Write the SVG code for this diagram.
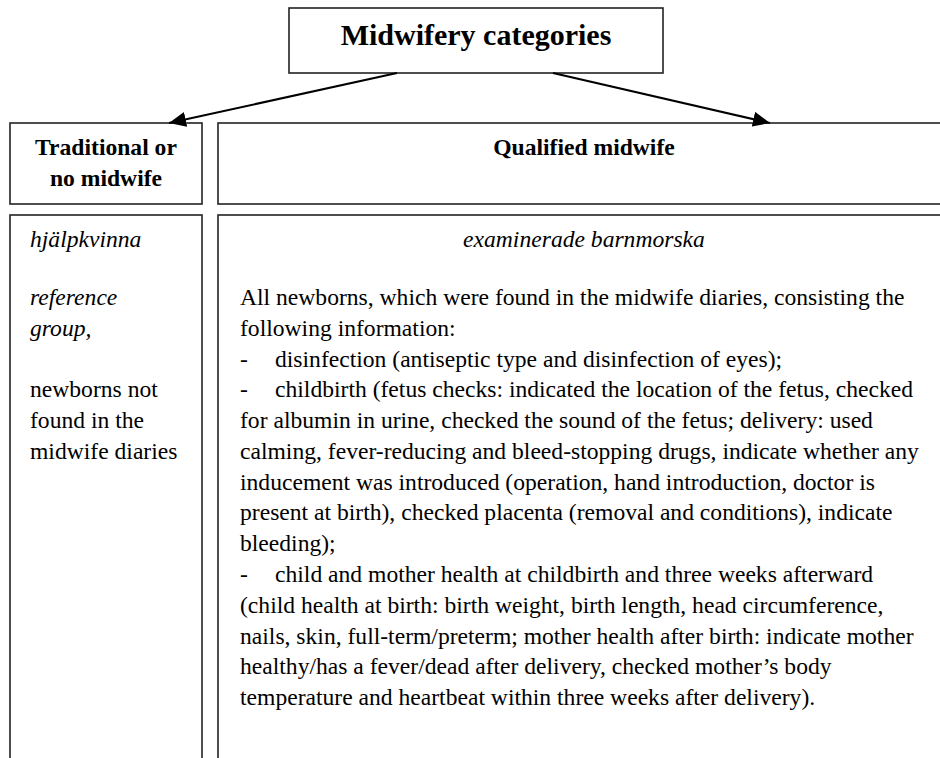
<svg xmlns="http://www.w3.org/2000/svg" width="940" height="758" viewBox="0 0 940 758">
<style>
.box{fill:#fff;stroke:#222;stroke-width:1.6}
.t{font-family:"Liberation Serif","Times New Roman",serif;font-size:23.6px;fill:#000}
.b{font-weight:bold}
.i{font-style:italic}
.c{text-anchor:middle}
.edge{stroke:#000;stroke-width:2;fill:none}
</style>
<defs>
<marker id="arr" markerUnits="userSpaceOnUse" markerWidth="18" markerHeight="15" refX="17" refY="7.5" orient="auto">
<path d="M0,0 L17,7.5 L0,15 z" fill="#000"/>
</marker>
</defs>
<rect width="940" height="758" fill="#fff"/>
<g id="root">
<rect class="box" x="289" y="8" width="374" height="65"/>
<text class="t b c" x="476" y="45" style="font-size:30px">Midwifery categories</text>
</g>
<g id="traditional-header">
<rect class="box" x="10" y="123" width="192" height="81"/>
<text class="t b c" x="106" y="155">Traditional or</text>
<text class="t b c" x="106" y="186">no midwife</text>
</g>
<g id="qualified-header">
<rect class="box" x="218" y="123" width="732" height="81"/>
<text class="t b c" x="584" y="155">Qualified midwife</text>
</g>
<g id="traditional-body">
<rect class="box" x="10" y="215" width="192" height="560"/>
<text class="t i" x="30" y="247">hjälpkvinna</text>
<text class="t i" x="30" y="305">reference</text>
<text class="t i" x="30" y="336">group,</text>
<text class="t" x="30" y="397">newborns not</text>
<text class="t" x="30" y="428">found in the</text>
<text class="t" x="30" y="459">midwife diaries</text>
</g>
<g id="qualified-body">
<rect class="box" x="218" y="215" width="732" height="560"/>
<text class="t i c" x="584" y="247">examinerade barnmorska</text>
<text class="t" x="240" y="305">All newborns, which were found in the midwife diaries, consisting the</text>
<text class="t" x="240" y="336">following information:</text>
<text class="t" x="240" y="367">-</text>
<text class="t" x="275" y="367">disinfection (antiseptic type and disinfection of eyes);</text>
<text class="t" x="240" y="397">-</text>
<text class="t" x="275" y="397">childbirth (fetus checks: indicated the location of the fetus, checked</text>
<text class="t" x="240" y="428">for albumin in urine, checked the sound of the fetus; delivery: used</text>
<text class="t" x="240" y="459">calming, fever-reducing and bleed-stopping drugs, indicate whether any</text>
<text class="t" x="240" y="490">inducement was introduced (operation, hand introduction, doctor is</text>
<text class="t" x="240" y="520">present at birth), checked placenta (removal and conditions), indicate</text>
<text class="t" x="240" y="551">bleeding);</text>
<text class="t" x="240" y="582">-</text>
<text class="t" x="275" y="582">child and mother health at childbirth and three weeks afterward</text>
<text class="t" x="240" y="613">(child health at birth: birth weight, birth length, head circumference,</text>
<text class="t" x="240" y="644">nails, skin, full-term/preterm; mother health after birth: indicate mother</text>
<text class="t" x="240" y="674">healthy/has a fever/dead after delivery, checked mother’s body</text>
<text class="t" x="240" y="705">temperature and heartbeat within three weeks after delivery).</text>
</g>
<g id="connectors">
<line class="edge" x1="397" y1="73" x2="169" y2="123" marker-end="url(#arr)"/>
<line class="edge" x1="553" y1="73" x2="770" y2="123" marker-end="url(#arr)"/>
</g>
</svg>
